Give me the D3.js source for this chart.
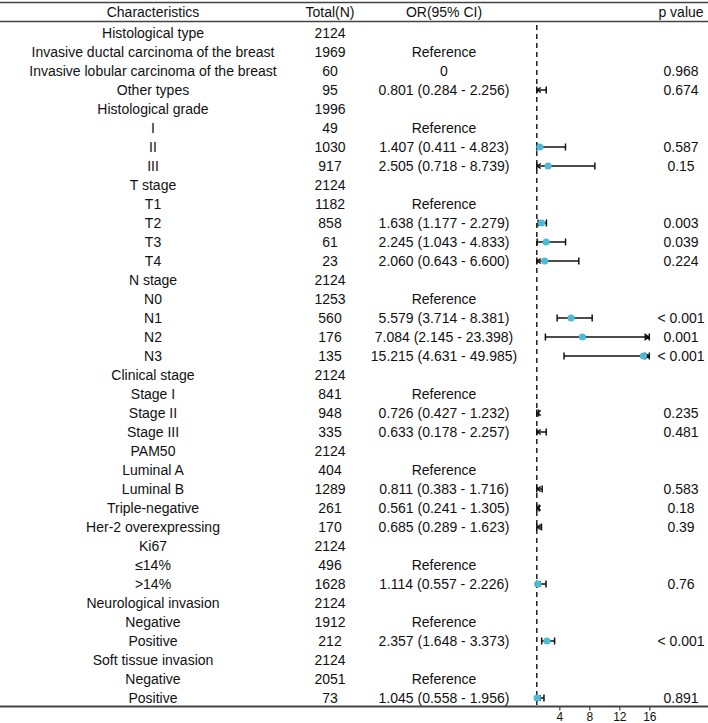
<!DOCTYPE html>
<html>
<head>
<meta charset="utf-8">
<script src="https://cdn.jsdelivr.net/npm/d3@7/dist/d3.min.js"></script>
<style>
  html, body { margin: 0; padding: 0; background: #fff; }
  svg { display: block; }
  text { font-family: "Liberation Sans", Arial, sans-serif; fill: #111; }
</style>
</head>
<body>
<div id="chart"></div>
<script>
const headers = ["Characteristics", "Total(N)", "OR(95% CI)", "p value"];

const characteristics = [
  "Histological type", "Invasive ductal carcinoma of the breast", "Invasive lobular carcinoma of the breast", "Other types",
  "Histological grade", "I", "II", "III",
  "T stage", "T1", "T2", "T3", "T4",
  "N stage", "N0", "N1", "N2", "N3",
  "Clinical stage", "Stage I", "Stage II", "Stage III",
  "PAM50", "Luminal A", "Luminal B", "Triple-negative", "Her-2 overexpressing",
  "Ki67", "≤14%", ">14%",
  "Neurological invasion", "Negative", "Positive",
  "Soft tissue invasion", "Negative", "Positive"
];

const totals = [
  2124, 1969, 60, 95,
  1996, 49, 1030, 917,
  2124, 1182, 858, 61, 23,
  2124, 1253, 560, 176, 135,
  2124, 841, 948, 335,
  2124, 404, 1289, 261, 170,
  2124, 496, 1628,
  2124, 1912, 212,
  2124, 2051, 73
];

// indices of reference categories
const referenceRows = [1, 5, 9, 14, 19, 23, 28, 31, 34];

const orEst = [
  null, null, 0, 0.801,
  null, null, 1.407, 2.505,
  null, null, 1.638, 2.245, 2.060,
  null, null, 5.579, 7.084, 15.215,
  null, null, 0.726, 0.633,
  null, null, 0.811, 0.561, 0.685,
  null, null, 1.114,
  null, null, 2.357,
  null, null, 1.045
];

const ciLow = [
  null, null, null, 0.284,
  null, null, 0.411, 0.718,
  null, null, 1.177, 1.043, 0.643,
  null, null, 3.714, 2.145, 4.631,
  null, null, 0.427, 0.178,
  null, null, 0.383, 0.241, 0.289,
  null, null, 0.557,
  null, null, 1.648,
  null, null, 0.558
];

const ciHigh = [
  null, null, null, 2.256,
  null, null, 4.823, 8.739,
  null, null, 2.279, 4.833, 6.600,
  null, null, 8.381, 23.398, 49.985,
  null, null, 1.232, 2.257,
  null, null, 1.716, 1.305, 1.623,
  null, null, 2.226,
  null, null, 3.373,
  null, null, 1.956
];

const pValues = [
  "", "", "0.968", "0.674",
  "", "", "0.587", "0.15",
  "", "", "0.003", "0.039", "0.224",
  "", "", "< 0.001", "0.001", "< 0.001",
  "", "", "0.235", "0.481",
  "", "", "0.583", "0.18", "0.39",
  "", "", "0.76",
  "", "", "< 0.001",
  "", "", "0.891"
];

const axisTicks = [4, 8, 12, 16];

const W = 708, H = 723;
const svg = d3.select("#chart").append("svg").attr("width", W).attr("height", H);

const fmt = d3.format(".3f");
function orLabel(i) {
  if (referenceRows.includes(i)) return "Reference";
  const v = orEst[i];
  if (v === null) return "";
  if (ciLow[i] === null) return String(v);
  return `${fmt(v)} (${fmt(ciLow[i])} - ${fmt(ciHigh[i])})`;
}

const y = d3.scalePoint().domain(d3.range(characteristics.length)).range([33, 698]);
const x = d3.scaleLinear().domain([1, 16]).range([536.8, 649.3]);

const colX = [153, 330, 444, 681];
const fontSize = 14;

// rules
const ruleColor = "#444";
svg.append("line").attr("x1", 0).attr("x2", W).attr("y1", 2.5).attr("y2", 2.5)
  .attr("stroke", ruleColor).attr("stroke-width", 1.6);
svg.append("line").attr("x1", 0).attr("x2", W).attr("y1", 21.5).attr("y2", 21.5)
  .attr("stroke", ruleColor).attr("stroke-width", 1.6);
svg.append("line").attr("x1", 0).attr("x2", W).attr("y1", 706.5).attr("y2", 706.5)
  .attr("stroke", ruleColor).attr("stroke-width", 2);

// header
svg.append("g").selectAll("text").data(headers).join("text")
  .attr("x", (d, i) => colX[i]).attr("y", 12)
  .attr("text-anchor", "middle").attr("dominant-baseline", "central")
  .attr("font-size", fontSize).text(d => d);

// rows
const rows = svg.append("g").selectAll("g").data(d3.range(characteristics.length)).join("g")
  .attr("transform", i => `translate(0,${y(i)})`);

rows.append("text").attr("x", colX[0]).attr("text-anchor", "middle").attr("dominant-baseline", "central")
  .attr("font-size", fontSize).text(i => characteristics[i]);
rows.append("text").attr("x", colX[1]).attr("text-anchor", "middle").attr("dominant-baseline", "central")
  .attr("font-size", fontSize).text(i => totals[i]);
rows.append("text").attr("x", colX[2]).attr("text-anchor", "middle").attr("dominant-baseline", "central")
  .attr("font-size", fontSize).text(i => orLabel(i));
rows.append("text").attr("x", colX[3]).attr("text-anchor", "middle").attr("dominant-baseline", "central")
  .attr("font-size", fontSize).text(i => pValues[i]);

// reference line at OR = 1
svg.append("line").attr("x1", x(1)).attr("x2", x(1)).attr("y1", 25).attr("y2", 706)
  .attr("stroke", "#111").attr("stroke-width", 1.4).attr("stroke-dasharray", "5,4");

// forest marks
const [xMin, xMax] = x.domain();
const ciRows = d3.range(characteristics.length).filter(i => ciLow[i] !== null && ciHigh[i] !== null);
const forest = svg.append("g").selectAll("g").data(ciRows).join("g")
  .attr("transform", i => `translate(0,${y(i)})`);

forest.append("line")
  .attr("x1", i => x(Math.max(ciLow[i], xMin)))
  .attr("x2", i => x(Math.min(ciHigh[i], xMax)))
  .attr("stroke", "#111").attr("stroke-width", 1.5);

// caps / arrows, low side
forest.append("path")
  .attr("d", i => {
    if (ciLow[i] >= xMin) { const px = x(ciLow[i]); return `M${px},-3.5V3.5`; }
    const px = x(xMin); return `M${px},-3.5V3.5M${px + 4},-2.5L${px + 0.5},0L${px + 4},2.5`;
  })
  .attr("stroke", "#111").attr("stroke-width", 1.5).attr("fill", "none");

// caps / arrows, high side
forest.append("path")
  .attr("d", i => {
    if (ciHigh[i] <= xMax) { const px = x(ciHigh[i]); return `M${px},-3.5V3.5`; }
    const px = x(xMax); return `M${px},-3.5V3.5M${px - 4},-2.5L${px - 0.5},0L${px - 4},2.5Z`;
  })
  .attr("stroke", "#111").attr("stroke-width", 1.5).attr("fill", "#111");

// point estimates (only those within the visible range)
forest.filter(i => orEst[i] >= xMin && orEst[i] <= xMax).append("circle")
  .attr("cx", i => x(orEst[i])).attr("cy", 0).attr("r", 3.6)
  .attr("fill", "#4DBBD5");

// axis
const axis = d3.axisBottom(x).tickValues(axisTicks).tickSize(4).tickPadding(2);
const ag = svg.append("g").attr("transform", "translate(0,706.5)").call(axis);
ag.select(".domain").remove();
ag.selectAll("line").attr("stroke", "#444").attr("stroke-width", 1.2);
ag.selectAll("text").attr("font-size", 12).attr("fill", "#111")
  .style("font-family", "Liberation Sans, Arial, sans-serif");
</script>
</body>
</html>
